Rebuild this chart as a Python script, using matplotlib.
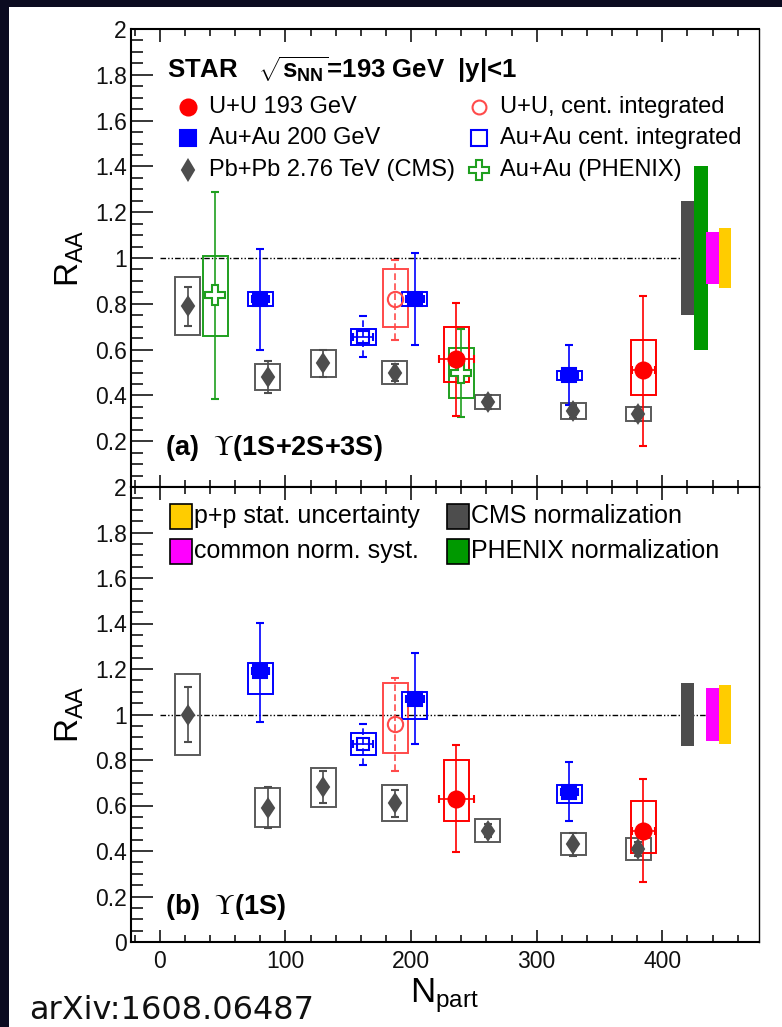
import matplotlib
matplotlib.use("Agg")
import matplotlib.pyplot as plt
from matplotlib.patches import Rectangle
from matplotlib.ticker import MultipleLocator, FuncFormatter

plt.rcParams['font.family'] = ['Liberation Sans', 'DejaVu Serif', 'DejaVu Sans']
plt.rcParams['mathtext.fontset'] = 'custom'
plt.rcParams['mathtext.rm'] = 'Liberation Sans'
plt.rcParams['mathtext.it'] = 'Liberation Sans:italic'
plt.rcParams['mathtext.bf'] = 'Liberation Sans:bold'

# ---------------- data ----------------
# CMS Pb+Pb 2.76 TeV
cms_npart = [22, 86, 130, 187, 261, 329, 381]
cms_raa_a = [0.79, 0.48, 0.54, 0.50, 0.37, 0.33, 0.32]
cms_stat_a = [0.085, 0.07, 0.058, 0.035, 0.03, 0.03, 0.03]
cms_sys_a = [0.125, 0.057, 0.06, 0.05, 0.03, 0.035, 0.03]
cms_raa_b = [1.00, 0.59, 0.68, 0.61, 0.49, 0.43, 0.41]
cms_stat_b = [0.12, 0.09, 0.07, 0.06, 0.03, 0.05, 0.03]
cms_sys_b = [0.177, 0.086, 0.085, 0.078, 0.05, 0.048, 0.048]

# STAR Au+Au 200 GeV, centrality bins
auau_npart = [80, 203, 326]
auau_xerr = [7, 7, 7]
auau_raa_a = [0.82, 0.82, 0.49]
auau_stat_lo_a = [0.222, 0.20, 0.13]
auau_stat_hi_a = [0.221, 0.20, 0.13]
auau_sys_lo_a = [0.03, 0.03, 0.023]
auau_sys_hi_a = [0.032, 0.032, 0.018]
auau_raa_b = [1.19, 1.07, 0.66]
auau_stat_lo_b = [0.224, 0.20, 0.13]
auau_stat_hi_b = [0.214, 0.20, 0.13]
auau_sys_lo_b = [0.10, 0.09, 0.048]
auau_sys_hi_b = [0.035, 0.03, 0.028]

# STAR Au+Au centrality integrated
auau_int_npart = [162]
auau_int_xerr = [8]
auau_int_raa_a = [0.656]
auau_int_stat_a = [0.09]
auau_int_sys_a = [0.035]
auau_int_raa_b = [0.87]
auau_int_stat_b = [0.09]
auau_int_sys_b = [0.05]

# STAR U+U 193 GeV, centrality bins
uu_npart = [236, 385]
uu_xerr = [14, 9]
uu_raa_a = [0.56, 0.51]
uu_stat_lo_a = [0.25, 0.33]
uu_stat_hi_a = [0.245, 0.326]
uu_sys_lo_a = [0.10, 0.11]
uu_sys_hi_a = [0.14, 0.134]
uu_raa_b = [0.63, 0.49]
uu_stat_lo_b = [0.235, 0.226]
uu_stat_hi_b = [0.235, 0.226]
uu_sys_lo_b = [0.10, 0.097]
uu_sys_hi_b = [0.17, 0.128]

# STAR U+U centrality integrated
uu_int_npart = [187.5]
uu_int_raa_a = [0.82]
uu_int_stat_lo_a = [0.178]
uu_int_stat_hi_a = [0.171]
uu_int_sys_lo_a = [0.12]
uu_int_sys_hi_a = [0.13]
uu_int_raa_b = [0.96]
uu_int_stat_lo_b = [0.21]
uu_int_stat_hi_b = [0.20]
uu_int_sys_lo_b = [0.13]
uu_int_sys_hi_b = [0.18]

# PHENIX Au+Au (1S+2S+3S only)
phx_npart = [44, 240]
phx_raa = [0.84, 0.50]
phx_stat_lo = [0.456, 0.196]
phx_stat_hi = [0.447, 0.189]
phx_sys_lo = [0.18, 0.11]
phx_sys_hi = [0.17, 0.106]

# global normalization uncertainties around unity
norm_names = ['CMS normalization', 'PHENIX normalization',
              'common norm. syst.', 'p+p stat. uncertainty']
norm_npart = [420, 430.5, 440, 450]
norm_width = [10, 11, 10, 10]
norm_half_a = [0.25, 0.40, 0.115, 0.13]
norm_half_b = [0.14, 0.0, 0.115, 0.13]
norm_colors = ['#4d4d4d', '#009900', '#ff00ff', '#ffcc00']

unity_range = [0, 435]

legend_col1 = ['U+U 193 GeV', 'Au+Au 200 GeV', 'Pb+Pb 2.76 TeV (CMS)']
legend_col2 = ['U+U, cent. integrated', 'Au+Au cent. integrated', 'Au+Au (PHENIX)']

# ---------------- styles ----------------
RED = '#ff0000'
RED_OPEN = '#ff4a4a'
BLUE = '#0000ff'
GRAY = '#4d4d4d'
GRAY_BOX = '#5a5a5a'
GREEN = '#1f9f1f'

W, H = 782, 1027
fig = plt.figure(figsize=(W / 100, H / 100), dpi=100)
fig.patch.set_facecolor('#0b0b20')
fig.patches.append(Rectangle((9 / W, 0), 1, 1 - 7 / H, transform=fig.transFigure,
                             facecolor='white', edgecolor='none', zorder=-10))

left, right = 131 / W, 759 / W
ax_a = fig.add_axes([left, 1 - 487 / H, right - left, (487 - 29) / H])
ax_b = fig.add_axes([left, 1 - 942 / H, right - left, (942 - 487) / H])


def series(ax, x, y, slo, shi, ylo, yhi, color, marker, ms, mfc, xerr=None,
           box_color=None, dashed=False, z=4):
    for xi, yi, a, b in zip(x, y, ylo, yhi):
        ax.add_patch(Rectangle((xi - 10, yi - a), 20, a + b, fill=False,
                               ec=box_color or color, lw=1.4, zorder=z - 1))
    eb = ax.errorbar(x, y, yerr=[slo, shi], xerr=xerr, fmt=marker, ms=ms,
                     mfc=mfc, mec=color, mew=1.5, ecolor=color, elinewidth=1.2,
                     capsize=3, capthick=1.2, zorder=z)
    if dashed:
        eb[2][-1].set_linestyle((0, (4, 2)))
    return eb


def style_axes(ax, hide_zero):
    ax.set_xlim(-23, 477)
    ax.set_ylim(0, 2)
    ax.xaxis.set_major_locator(MultipleLocator(100))
    ax.xaxis.set_minor_locator(MultipleLocator(20))
    ax.yaxis.set_major_locator(MultipleLocator(0.2))
    ax.yaxis.set_minor_locator(MultipleLocator(0.05))
    ax.tick_params(which='both', direction='in', top=True, bottom=True,
                   left=True, right=False, width=1.1, labelsize=16.5,
                   labelcolor='#111111')
    ax.tick_params(axis='x', which='major', length=9, pad=6)
    ax.tick_params(axis='x', which='minor', length=5)
    ax.tick_params(axis='y', which='major', length=16, pad=3)
    ax.tick_params(axis='y', which='minor', length=8.5)
    for s in ax.spines.values():
        s.set_linewidth(1.5)
    ax.spines['right'].set_linewidth(1.0)

    def fmt(v, p):
        if hide_zero and abs(v) < 1e-9:
            return ''
        return '%g' % round(v, 2)
    ax.yaxis.set_major_formatter(FuncFormatter(fmt))
    ax.set_ylabel(r'R$_{\rm AA}$', fontsize=24)
    ax.yaxis.set_label_coords(-0.072, 0.5)
    ax.plot(unity_range, [1, 1], color='black', lw=1.0,
            dashes=(4, 1.5, 1, 1.5, 1, 1.5), zorder=2)


def norm_bars(ax, halves):
    for xc, w, h, c in zip(norm_npart, norm_width, halves, norm_colors):
        if h > 0:
            ax.bar(xc, 2 * h, bottom=1 - h, width=w, color=c, lw=0, zorder=3)


# ---------------- panel (a) ----------------
style_axes(ax_a, hide_zero=True)
ax_a.tick_params(axis='x', labelbottom=False)
norm_bars(ax_a, norm_half_a)
series(ax_a, cms_npart, cms_raa_a, cms_stat_a, cms_stat_a, cms_sys_a, cms_sys_a,
       GRAY, 'd', 9.5, GRAY, box_color=GRAY_BOX)
series(ax_a, phx_npart, phx_raa, phx_stat_lo, phx_stat_hi, phx_sys_lo, phx_sys_hi,
       GREEN, 'P', 14, 'white')
series(ax_a, uu_int_npart, uu_int_raa_a, uu_int_stat_lo_a, uu_int_stat_hi_a,
       uu_int_sys_lo_a, uu_int_sys_hi_a, RED_OPEN, 'o', 11, 'none', dashed=True)
series(ax_a, auau_int_npart, auau_int_raa_a, auau_int_stat_a, auau_int_stat_a,
       auau_int_sys_a, auau_int_sys_a, BLUE, 's', 8, 'none', xerr=[auau_int_xerr],
       dashed=True)
series(ax_a, auau_npart, auau_raa_a, auau_stat_lo_a, auau_stat_hi_a,
       auau_sys_lo_a, auau_sys_hi_a, BLUE, 's', 10, BLUE, xerr=[auau_xerr])
series(ax_a, uu_npart, uu_raa_a, uu_stat_lo_a, uu_stat_hi_a,
       uu_sys_lo_a, uu_sys_hi_a, RED, 'o', 11.5, RED, xerr=[uu_xerr])

ax_a.text(0.057, 0.910, r'STAR   $\sqrt{\mathbf{s}_{\mathbf{NN}}}$=193 GeV  |y|<1',
          transform=ax_a.transAxes, fontsize=18.5, fontweight='bold', va='center')
leg_rows = [0.830, 0.762, 0.692]
col1_marks = [dict(marker='o', ms=11.5, mfc=RED, mec=RED),
              dict(marker='s', ms=11, mfc=BLUE, mec=BLUE),
              dict(marker='d', ms=10, mfc=GRAY, mec=GRAY)]
col2_marks = [dict(marker='o', ms=10, mfc='none', mec=RED_OPEN),
              dict(marker='s', ms=11, mfc='none', mec=BLUE),
              dict(marker='P', ms=14, mfc='white', mec=GREEN)]
for yy, lab, mk in zip(leg_rows, legend_col1, col1_marks):
    ax_a.plot([0.0908], [yy], transform=ax_a.transAxes, ls='none', mew=1.5,
              clip_on=False, **mk)
    ax_a.text(0.124, yy, lab, transform=ax_a.transAxes, fontsize=17, va='center')
for yy, lab, mk in zip(leg_rows, legend_col2, col2_marks):
    ax_a.plot([0.554], [yy], transform=ax_a.transAxes, ls='none', mew=1.5,
              clip_on=False, **mk)
    ax_a.text(0.588, yy, lab, transform=ax_a.transAxes, fontsize=17, va='center')
ax_a.text(0.054, 0.085, r'(a)  $\Upsilon$(1S+2S+3S)', transform=ax_a.transAxes,
          fontsize=19.5, fontweight='bold', va='center', math_fontfamily='stix')

# ---------------- panel (b) ----------------
style_axes(ax_b, hide_zero=False)
norm_bars(ax_b, norm_half_b)
series(ax_b, cms_npart, cms_raa_b, cms_stat_b, cms_stat_b, cms_sys_b, cms_sys_b,
       GRAY, 'd', 9.5, GRAY, box_color=GRAY_BOX)
series(ax_b, uu_int_npart, uu_int_raa_b, uu_int_stat_lo_b, uu_int_stat_hi_b,
       uu_int_sys_lo_b, uu_int_sys_hi_b, RED_OPEN, 'o', 11, 'none', dashed=True)
series(ax_b, auau_int_npart, auau_int_raa_b, auau_int_stat_b, auau_int_stat_b,
       auau_int_sys_b, auau_int_sys_b, BLUE, 's', 8, 'none', xerr=[auau_int_xerr],
       dashed=True)
series(ax_b, auau_npart, auau_raa_b, auau_stat_lo_b, auau_stat_hi_b,
       auau_sys_lo_b, auau_sys_hi_b, BLUE, 's', 10, BLUE, xerr=[auau_xerr])
series(ax_b, uu_npart, uu_raa_b, uu_stat_lo_b, uu_stat_hi_b,
       uu_sys_lo_b, uu_sys_hi_b, RED, 'o', 11.5, RED, xerr=[uu_xerr])

# legend for the normalization bands
leg_b = [(0.062, 0.936, norm_names[3], norm_colors[3]),
         (0.062, 0.859, norm_names[2], norm_colors[2]),
         (0.503, 0.936, norm_names[0], norm_colors[0]),
         (0.503, 0.859, norm_names[1], norm_colors[1])]
for x0, yy, lab, c in leg_b:
    ax_b.add_patch(Rectangle((x0, yy - 0.0275), 0.035, 0.055, transform=ax_b.transAxes,
                             facecolor=c, edgecolor='black', lw=1.2, clip_on=False))
    ax_b.text(x0 + 0.039, yy, lab, transform=ax_b.transAxes, fontsize=18, va='center')
ax_b.text(0.054, 0.077, r'(b)  $\Upsilon$(1S)', transform=ax_b.transAxes,
          fontsize=19.5, fontweight='bold', va='center', math_fontfamily='stix')

ax_b.set_xlabel(r'N$_{\rm part}$', fontsize=25)
ax_b.xaxis.set_label_coords(0.5, -0.076)

fig.text(29 / W, 1 - 1019 / H, 'arXiv:1608.06487', fontsize=23,
         family='DejaVu Sans', va='baseline', ha='left', color='#111111')

fig.savefig('out.png', dpi=100, facecolor=fig.get_facecolor())
